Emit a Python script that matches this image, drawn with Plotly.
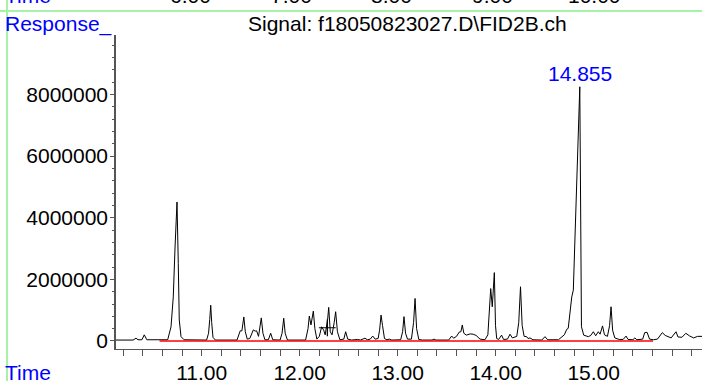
import plotly.graph_objects as go

# ---------------- data ----------------
time_min = [
    10.125, 10.30, 10.33, 10.35, 10.39, 10.414, 10.44, 10.60,
    10.653, 10.687, 10.71, 10.728, 10.748, 10.761, 10.771, 10.789, 10.82,
    11.05, 11.07, 11.082, 11.092, 11.102, 11.115, 11.14,
    11.36, 11.393, 11.41, 11.43, 11.445, 11.465,
    11.49, 11.527, 11.545, 11.56, 11.58, 11.608, 11.625, 11.645,
    11.68, 11.704, 11.725, 11.80, 11.82, 11.837, 11.852, 11.875,
    12.06, 12.085, 12.098, 12.115, 12.139, 12.155, 12.175,
    12.20, 12.224, 12.245, 12.26, 12.285, 12.296, 12.312, 12.33,
    12.352, 12.367, 12.385, 12.41, 12.45, 12.469, 12.49, 12.53,
    12.59, 12.62, 12.666, 12.69, 12.72, 12.745, 12.77, 12.80,
    12.815, 12.83, 12.845, 12.865, 12.89, 12.914, 12.94,
    13.03, 13.05, 13.064, 13.08, 13.10, 13.14, 13.162, 13.177, 13.193, 13.215, 13.25,
    13.35, 13.37, 13.39, 13.52, 13.551, 13.57, 13.60, 13.628, 13.645, 13.659, 13.675,
    13.70, 13.74, 13.77, 13.80, 13.84, 13.89,
    13.92, 13.949, 13.965, 13.986, 13.998, 14.01, 14.03, 14.06, 14.08,
    14.12, 14.146, 14.17, 14.215, 14.235, 14.253, 14.27, 14.29, 14.316, 14.33, 14.35, 14.38,
    14.47, 14.503, 14.53, 14.64, 14.70, 14.725, 14.74, 14.776, 14.792, 14.82,
    14.851, 14.858, 14.868, 14.875, 14.898, 14.945, 14.97, 14.996, 15.02, 15.047, 15.065,
    15.09, 15.11, 15.14, 15.162, 15.177, 15.193, 15.215, 15.26, 15.30, 15.33, 15.35,
    15.40, 15.42, 15.44, 15.50, 15.52, 15.545, 15.57, 15.61, 15.65, 15.70, 15.73,
    15.76, 15.79, 15.84, 15.86, 15.90, 15.94, 15.98, 16.02, 16.06, 16.105,
]
response = [
    30000, 30000, 90000, 40000, 40000, 200000, 40000, 30000,
    40000, 460000, 1430000, 3050000, 4510000, 2520000, 680000, 140000, 40000,
    30000, 250000, 700000, 1160000, 600000, 120000, 30000,
    30000, 330000, 330000, 780000, 300000, 60000,
    80000, 360000, 320000, 330000, 150000, 750000, 250000, 40000,
    40000, 250000, 40000, 30000, 250000, 740000, 250000, 30000,
    30000, 400000, 810000, 520000, 970000, 400000, 60000,
    150000, 460000, 350000, 200000, 700000, 1090000, 300000, 200000,
    600000, 950000, 300000, 40000, 60000, 300000, 60000, 30000,
    50000, 30000, 90000, 40000, 60000, 160000, 60000, 80000,
    350000, 840000, 500000, 80000, 40000, 60000, 30000,
    40000, 300000, 790000, 250000, 60000, 60000, 600000, 1380000, 400000, 50000, 30000,
    30000, 60000, 30000, 30000, 160000, 90000, 150000, 290000, 300000, 520000, 250000,
    190000, 230000, 220000, 180000, 60000, 40000,
    200000, 1700000, 1110000, 2220000, 500000, 80000, 50000, 190000, 50000,
    60000, 220000, 100000, 150000, 600000, 1760000, 500000, 150000, 140000, 80000, 100000, 40000,
    30000, 140000, 40000, 40000, 200000, 380000, 410000, 1430000, 1650000, 4780000,
    8250000, 8250000, 3700000, 460000, 190000, 140000, 180000, 300000, 170000, 300000, 220000,
    490000, 200000, 150000, 500000, 1110000, 350000, 100000, 50000, 50000, 160000, 50000,
    40000, 100000, 40000, 60000, 270000, 280000, 60000, 40000, 60000, 270000, 180000,
    150000, 100000, 300000, 130000, 120000, 250000, 160000, 100000, 150000, 150000,
]

baseline_time = [10.57, 15.605]
baseline_resp = [0, 0]

marker_time = [12.282]
marker_resp = [430000]

peak_label_time = 14.855
peak_label_resp = 8250000
peak_label_text = "14.855"

title_text = "Signal: f18050823027.D\\FID2B.ch"
top_tick_labels = ["6.00", "7.00", "8.00", "9.00", "10.00"]

# ---------------- layout helpers ----------------
W, H = 702, 381
ML, MR, MT, MB = 116, 0, 35, 32
PW, PH = W - ML - MR, H - MT - MB


def px(x):
    return (x - ML) / PW


def py(y):
    return (H - MB - y) / PH


FONT = "Liberation Sans, Arial, sans-serif"
FS = 21
BLUE = "#0000ff"
GREEN = "#a6f2a6"

fig = go.Figure()

fig.add_trace(go.Scatter(
    x=time_min, y=response, mode="lines",
    line=dict(color="black", width=1), hoverinfo="skip", showlegend=False,
))
fig.add_trace(go.Scatter(
    x=baseline_time, y=baseline_resp, mode="lines",
    line=dict(color="#ff0000", width=1.5), hoverinfo="skip", showlegend=False,
))
fig.add_trace(go.Scatter(
    x=marker_time, y=marker_resp, mode="markers",
    marker=dict(symbol="cross-thin", size=12, line=dict(color="black", width=1.2)),
    hoverinfo="skip", showlegend=False,
))

annotations = [
    dict(x=peak_label_time, y=peak_label_resp, xref="x", yref="y",
         text=peak_label_text, showarrow=False, yanchor="bottom", yshift=0,
         font=dict(family=FONT, size=FS, color=BLUE)),
    dict(x=px(407.5), y=py(23), xref="paper", yref="paper", text=title_text,
         showarrow=False, xanchor="center", yanchor="middle",
         font=dict(family=FONT, size=FS, color="black")),
    dict(x=px(3), y=py(24), xref="paper", yref="paper", text="Response_",
         showarrow=False, xanchor="left", yanchor="middle",
         font=dict(family=FONT, size=FS, color=BLUE)),
    dict(x=px(3), y=py(372), xref="paper", yref="paper", text="Time",
         showarrow=False, xanchor="left", yanchor="middle",
         font=dict(family=FONT, size=FS, color=BLUE)),
    dict(x=px(3), y=py(-4), xref="paper", yref="paper", text="Time",
         showarrow=False, xanchor="left", yanchor="middle",
         font=dict(family=FONT, size=FS, color=BLUE)),
]
for lab, cx in zip(top_tick_labels, [190, 291, 391, 492, 594]):
    annotations.append(dict(x=px(cx), y=py(-4), xref="paper", yref="paper", text=lab,
                            showarrow=False, xanchor="center", yanchor="middle",
                            font=dict(family=FONT, size=FS, color="black")))

shapes = [
    dict(type="line", xref="paper", yref="paper", x0=px(0), x1=px(W), y0=py(11), y1=py(11),
         line=dict(color=GREEN, width=2)),
    dict(type="line", xref="paper", yref="paper", x0=px(7), x1=px(7), y0=py(0), y1=py(H),
         line=dict(color=GREEN, width=2)),
]

fig.update_layout(
    width=W, height=H,
    margin=dict(l=ML, r=MR, t=MT, b=MB, autoexpand=False),
    paper_bgcolor="white", plot_bgcolor="white",
    font=dict(family=FONT, size=FS, color="black"),
    annotations=annotations, shapes=shapes,
    showlegend=False,
)
fig.update_xaxes(
    range=[10.1255, 16.105], showgrid=False, zeroline=False,
    showline=True, linecolor="#555555", linewidth=1,
    ticks="outside", ticklen=6, tickcolor="#555555", tickwidth=1,
    tick0=0, dtick=1, tickformat=".2f", ticklabelstandoff=-1,
    minor=dict(ticks="outside", ticklen=6, dtick=0.2, tick0=0, tickcolor="#555555", showgrid=False),
    tickfont=dict(family=FONT, size=FS, color="black"), automargin=False,
)
fig.update_yaxes(
    range=[-260000, 9930000], showgrid=False, zeroline=False,
    showline=True, linecolor="#555555", linewidth=1.5,
    ticks="outside", ticklen=4, tickcolor="#555555", tickwidth=1,
    tick0=0, dtick=2000000, tickformat="d", ticklabelstandoff=-2,
    minor=dict(ticks="outside", ticklen=2, dtick=400000, tick0=0, tickcolor="#555555", showgrid=False),
    tickfont=dict(family=FONT, size=FS, color="black"), automargin=False,
)

fig.write_html(
    "out.html",
    config={"displayModeBar": False},
    post_script="document.body.style.margin='0px';document.body.style.padding='0px';"
                "document.body.style.overflow='hidden';",
)
